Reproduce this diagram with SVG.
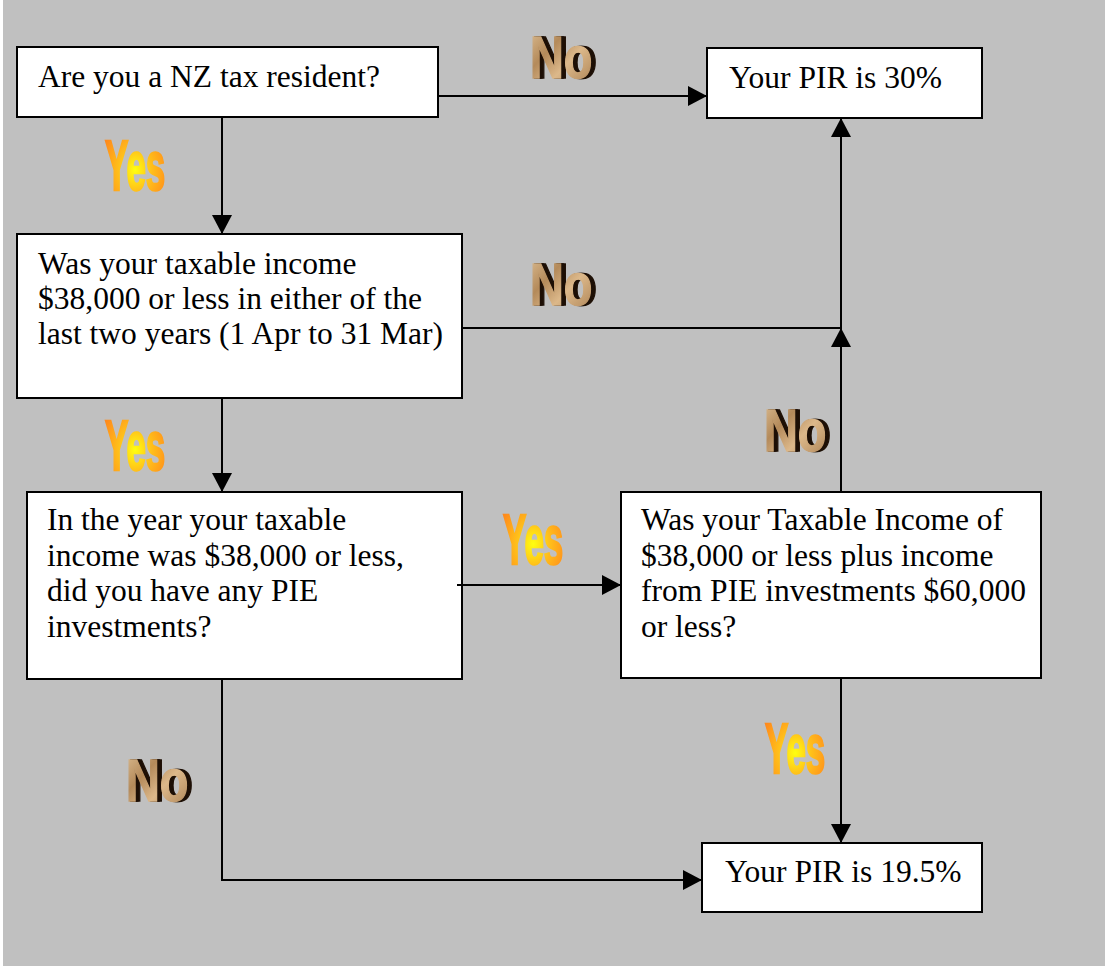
<svg xmlns="http://www.w3.org/2000/svg" width="1105" height="966" viewBox="0 0 1105 966">
<defs>
<style>
.box{fill:#fff;stroke:#000;stroke-width:2}
.t{font-family:"Liberation Serif","Times New Roman",serif;font-size:31.5px;fill:#000}
.ln{fill:none;stroke:#000;stroke-width:2}
.yes{font-family:"Liberation Sans",Arial,sans-serif;font-weight:bold;font-size:70px;fill:url(#yesG);stroke:url(#yesG);stroke-width:2.5}
.nof{font-family:"Liberation Sans",Arial,sans-serif;font-weight:bold;font-size:60px;fill:url(#noG);stroke:url(#noG);stroke-width:1.5}
.nob{font-family:"Liberation Sans",Arial,sans-serif;font-weight:bold;font-size:60px;fill:#1e1006;stroke:#1e1006;stroke-width:1.5}
</style>
<marker id="ah" markerUnits="userSpaceOnUse" markerWidth="20" markerHeight="20" refX="19" refY="10" orient="auto">
<path d="M0,0 L19,10 L0,20 z" fill="#000"/>
</marker>
<radialGradient id="yesG" cx="0.5" cy="0.55" r="0.6">
<stop offset="0" stop-color="#ffff10"/>
<stop offset="0.45" stop-color="#ffc01a"/>
<stop offset="1" stop-color="#ff8a1c"/>
</radialGradient>
<linearGradient id="noG" x1="0" y1="0" x2="1" y2="1">
<stop offset="0" stop-color="#e0c298"/>
<stop offset="0.35" stop-color="#b48a5a"/>
<stop offset="0.6" stop-color="#dcb88a"/>
<stop offset="1" stop-color="#a87e50"/>
</linearGradient>
<g id="noLbl">
<text class="nob" x="6" y="0">No</text>
<text class="nob" x="4" y="0">No</text>
<text class="nob" x="2" y="0">No</text>
<text class="nof" x="0" y="0">No</text>
</g>
<text id="yesLbl" class="yes" x="0" y="0">Yes</text>
</defs>
<rect x="0" y="0" width="1105" height="966" fill="#fff"/>
<rect x="3" y="0" width="1102" height="966" fill="#c0c0c0"/>

<g id="labels">
<use href="#noLbl" transform="translate(530,78) scale(0.78,1)"/>
<use href="#noLbl" transform="translate(530,305) scale(0.78,1)"/>
<use href="#noLbl" transform="translate(764,451) scale(0.78,1)"/>
<use href="#noLbl" transform="translate(126,801) scale(0.78,1)"/>
<use href="#yesLbl" transform="translate(105,190) scale(0.5,1)"/>
<use href="#yesLbl" transform="translate(105,470) scale(0.5,1)"/>
<use href="#yesLbl" transform="translate(503,564) scale(0.5,1)"/>
<use href="#yesLbl" transform="translate(765,773) scale(0.5,1)"/>
</g>

<g id="n1">
<rect class="box" x="17" y="47" width="421" height="70"/>
<text class="t" x="38" y="87">Are you a NZ tax resident?</text>
</g>
<g id="n2">
<rect class="box" x="707" y="48" width="275" height="70"/>
<text class="t" x="729" y="88">Your PIR is 30%</text>
</g>
<g id="n3">
<rect class="box" x="17" y="234" width="445" height="164"/>
<text class="t" x="38" y="274">Was your taxable income</text>
<text class="t" x="38" y="309">$38,000 or less in either of the</text>
<text class="t" x="38" y="344">last two years (1 Apr to 31 Mar)</text>
</g>
<g id="n4">
<rect class="box" x="27" y="492" width="435" height="187"/>
<text class="t" x="47" y="530">In the year your taxable</text>
<text class="t" x="47" y="565.5">income was $38,000 or less,</text>
<text class="t" x="47" y="601">did you have any PIE</text>
<text class="t" x="47" y="636.5">investments?</text>
</g>
<g id="n5">
<rect class="box" x="621" y="492" width="420" height="186"/>
<text class="t" x="641" y="530">Was your Taxable Income of</text>
<text class="t" x="641" y="565.5">$38,000 or less plus income</text>
<text class="t" x="641" y="601">from PIE investments $60,000</text>
<text class="t" x="641" y="636.5">or less?</text>
</g>
<g id="n6">
<rect class="box" x="702" y="843" width="280" height="69"/>
<text class="t" x="725" y="882">Your PIR is 19.5%</text>
</g>

<g id="connectors">
<line class="ln" x1="438" y1="96" x2="707" y2="96" marker-end="url(#ah)"/>
<line class="ln" x1="222" y1="117" x2="222" y2="234" marker-end="url(#ah)"/>
<polyline class="ln" points="462,328 841,328 841,118" marker-end="url(#ah)"/>
<line class="ln" x1="841" y1="492" x2="841" y2="328" marker-end="url(#ah)"/>
<line class="ln" x1="222" y1="398" x2="222" y2="492" marker-end="url(#ah)"/>
<line class="ln" x1="457" y1="585" x2="621" y2="585" marker-end="url(#ah)"/>
<polyline class="ln" points="222,679 222,880 702,880" marker-end="url(#ah)"/>
<line class="ln" x1="841" y1="678" x2="841" y2="843" marker-end="url(#ah)"/>
</g>
</svg>
